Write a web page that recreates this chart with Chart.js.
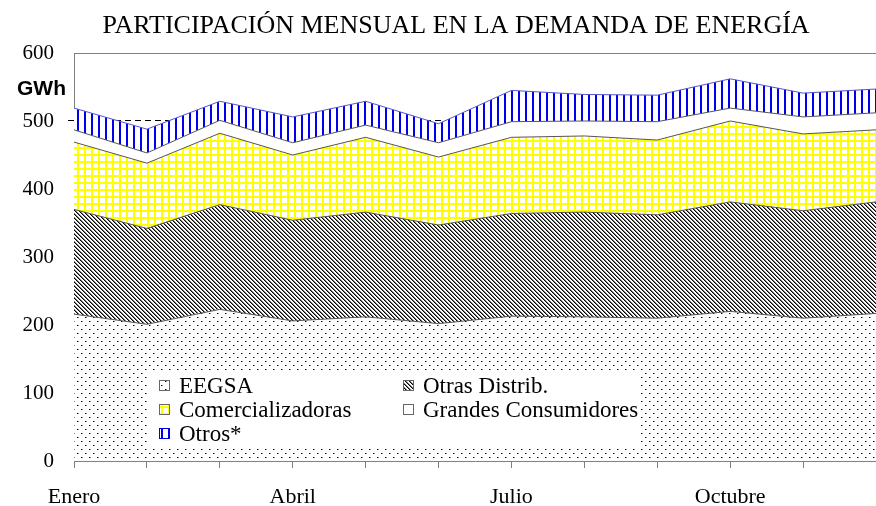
<!DOCTYPE html>
<html>
<head>
<meta charset="utf-8">
<script src="https://cdn.jsdelivr.net/npm/chart.js@4.4.1/dist/chart.umd.min.js"></script>
<style>
  html, body { margin: 0; padding: 0; background: #fff; }
  #wrap { width: 876px; height: 506px; }
</style>
</head>
<body>
<div id="wrap"><canvas id="myChart" width="876" height="506"></canvas></div>
<script>
'use strict';
let chartTitle = 'PARTICIPACIÓN MENSUAL EN LA DEMANDA DE ENERGÍA';
let months = ['Enero', 'Febrero', 'Marzo', 'Abril', 'Mayo', 'Junio', 'Julio', 'Agosto', 'Septiembre', 'Octubre', 'Noviembre', 'Diciembre'];
let shownMonths = ['Enero', 'Abril', 'Julio', 'Octubre'];
let yTicks = [0, 100, 200, 300, 400, 500, 600];
let eegsa = [216, 201, 223, 206, 212, 202, 213, 212, 210, 220, 210, 217];
let otrasDistrib = [154, 141, 154, 148, 154, 145, 151, 154, 152, 161, 158, 164];
let comercializadoras = [99, 96, 105, 96, 110, 100, 112, 112, 110, 119, 113, 106];
let grandesConsumidores = [18, 15, 19, 18, 18, 21, 23, 22, 27, 19, 25, 25];
let otros = [32, 35, 28, 38, 35, 28, 46, 39, 39, 43, 35, 35];

// small tiles turned into canvas patterns
function makePattern(w, h, draw) {
    let c = document.createElement('canvas');
    c.width = w;
    c.height = h;
    let g = c.getContext('2d');
    g.fillStyle = '#fff';
    g.fillRect(0, 0, w, h);
    draw(g);
    return g.createPattern(c, 'repeat');
}

let dotPattern = makePattern(8, 8, function (g) {
    g.fillStyle = '#000';
    g.fillRect(1, 1, 1, 1);
    g.fillRect(5, 5, 1, 1);
    g.fillStyle = '#888';
    g.fillRect(2, 1, 1, 1);
    g.fillRect(6, 5, 1, 1);
});
let diagPattern = makePattern(4, 4, function (g) {
    g.fillStyle = '#000';
    for (let i = 0; i < 4; i++) {
        g.fillRect(i, i, 1, 1);
    }
    g.fillStyle = '#777';
    for (let i = 0; i < 4; i++) {
        g.fillRect((i + 1) % 4, i, 1, 1);
    }
});
let gridPattern = makePattern(7, 7, function (g) {
    g.fillStyle = '#ffff00';
    g.fillRect(0, 0, 7, 2);
    g.fillRect(0, 0, 2, 7);
});
let whitePattern = '#ffffff';
let vertPattern = makePattern(7, 7, function (g) {
    g.fillStyle = '#0000ee';
    g.fillRect(0, 0, 2, 7);
});

let seriesNames = ['EEGSA', 'Otras Distrib.', 'Comercializadoras', 'Grandes Consumidores', 'Otros*'];
let seriesData = [eegsa, otrasDistrib, comercializadoras, grandesConsumidores, otros];
let seriesFill = [dotPattern, diagPattern, gridPattern, whitePattern, vertPattern];
let seriesEdge = ['#555', '#555', '#555', '#555', '#5555cc'];

let datasets = [];
for (let i = 0; i < seriesNames.length; i++) {
    datasets.push({
        label: seriesNames[i],
        data: seriesData[i],
        backgroundColor: seriesFill[i],
        borderColor: seriesEdge[i],
        borderWidth: 1,
        pointRadius: 0,
        tension: 0,
        fill: i === 0 ? 'origin' : '-1'
    });
}

let serif = "'Liberation Serif', 'Times New Roman', serif";

// title, legend box, axis unit and plot frame
let extras = {
    id: 'extras',
    afterDraw: function (chart) {
        let ctx = chart.ctx;
        let area = chart.chartArea;
        ctx.save();
        ctx.strokeStyle = '#808080';
        ctx.lineWidth = 1;
        ctx.beginPath();
        ctx.moveTo(area.left, area.top + 0.5);
        ctx.lineTo(area.right, area.top + 0.5);
        ctx.stroke();

        ctx.fillStyle = '#000';
        ctx.font = '26px ' + serif;
        ctx.textAlign = 'center';
        ctx.textBaseline = 'alphabetic';
        ctx.fillText(chartTitle, 456, 33);

        ctx.font = "bold 21px 'Liberation Sans', Arial, sans-serif";
        ctx.textAlign = 'left';
        ctx.fillText('GWh', 17, 95);

        ctx.fillStyle = '#fff';
        ctx.fillRect(148, 372, 491, 76);
        let spots = [[159, 385], [403, 385], [159, 409], [403, 409], [159, 433]];
        ctx.font = '23px ' + serif;
        for (let i = 0; i < seriesNames.length; i++) {
            let x = spots[i][0];
            let y = spots[i][1];
            ctx.fillStyle = seriesFill[i];
            ctx.fillRect(x, y - 5, 11, 11);
            ctx.strokeStyle = i === 4 ? '#0000ee' : '#666';
            ctx.strokeRect(x + 0.5, y - 4.5, 10, 10);
            ctx.fillStyle = '#000';
            ctx.fillText(seriesNames[i], x + 20, y + 8);
        }
        ctx.restore();
    }
};

let ctx = document.getElementById('myChart').getContext('2d');
let myChart = new Chart(ctx, {
    type: 'line',
    data: {
        labels: months,
        datasets: datasets
    },
    plugins: [extras],
    options: {
        responsive: false,
        animation: false,
        layout: { padding: { left: 0, right: 0, top: 53, bottom: 0 } },
        plugins: {
            legend: { display: false },
            tooltip: { enabled: false },
            title: { display: false }
        },
        scales: {
            x: {
                offset: false,
                grid: { drawOnChartArea: false, drawTicks: true, tickLength: 7, color: '#808080' },
                border: { color: '#808080' },
                ticks: {
                    autoSkip: false,
                    maxRotation: 0,
                    padding: 16,
                    color: '#000',
                    font: { family: serif, size: 22 },
                    callback: function (value) {
                        let name = months[value];
                        return shownMonths.includes(name) ? name : '';
                    }
                },
                afterFit: function (scale) {
                    scale.height = 45;
                    scale.paddingRight = 0;
                    scale.paddingLeft = 0;
                }
            },
            y: {
                stacked: true,
                min: yTicks[0],
                max: yTicks[yTicks.length - 1],
                afterBuildTicks: function (scale) {
                    scale.ticks = yTicks.map(function (v) { return { value: v }; });
                },
                grid: {
                    drawOnChartArea: true,
                    tickLength: 6,
                    color: '#000',
                    lineWidth: function (c) { return c.tick.value === 500 ? 1 : 0; }
                },
                border: { color: '#808080', dash: [6, 4] },
                ticks: {
                    padding: 14,
                    color: '#000',
                    font: { family: serif, size: 21 }
                },
                afterFit: function (scale) {
                    scale.width = 74;
                    scale.paddingTop = 0;
                }
            }
        }
    }
});
</script>
</body>
</html>
